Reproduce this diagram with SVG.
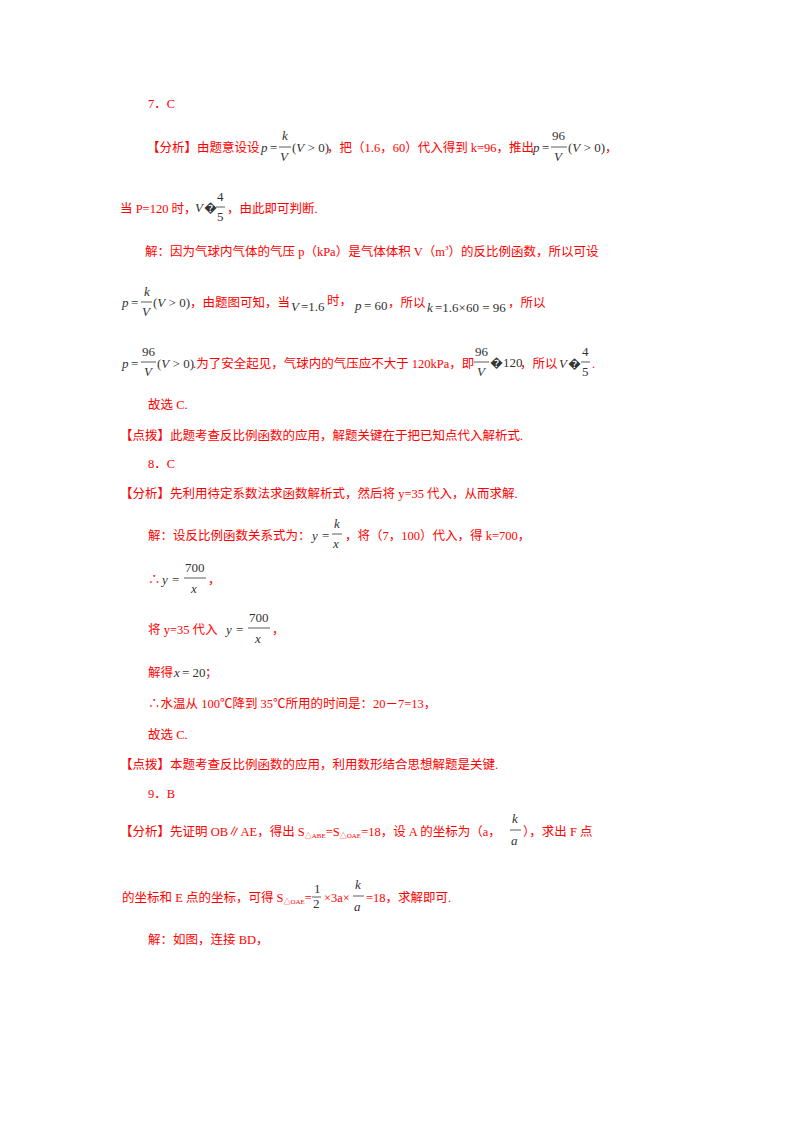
<svg xmlns="http://www.w3.org/2000/svg" width="800" height="1132" viewBox="0 0 800 1132">
<style>
text{font-family:"Liberation Serif","Noto Sans CJK SC",serif;font-size:12.5px;fill:#f00}
.m{font-style:italic;fill:#333;font-size:13px}
.n{fill:#333;font-size:13px}
.s{font-size:7px}
line{stroke:#333;stroke-width:0.8}
</style>
<rect width="800" height="1132" fill="#fff"/>
<g id="q7">
<text x="148" y="108">7．C</text>
<text x="147" y="152">【分析】由题意设设</text>
<text x="261" y="152" class="m">p</text><text x="270" y="152" class="n">=</text>
<text x="282" y="140" class="m">k</text><line x1="279" y1="147" x2="291" y2="147"/><text x="280" y="161" class="m">V</text>
<text x="292" y="152" class="n">(<tspan font-style="italic">V</tspan> &gt; 0)</text>
<text x="327" y="152">，把（1.6，60）代入得到 k=96，推出</text>
<text x="533" y="152" class="m">p</text><text x="542" y="152" class="n">=</text>
<text x="552" y="140" class="n">96</text><line x1="551" y1="147" x2="567" y2="147"/><text x="554" y="161" class="m">V</text>
<text x="568" y="152" class="n">(<tspan font-style="italic">V</tspan> &gt; 0)</text>
<text x="605" y="152">，</text>
<text x="120" y="213">当 P=120 时，</text>
<text x="195" y="212" class="m">V</text><text x="204" y="212" class="n">�</text>
<text x="217" y="201" class="n">4</text><line x1="216" y1="207" x2="225" y2="207"/><text x="217" y="221" class="n">5</text>
<text x="227" y="213">，由此即可判断.</text>
<text x="145" y="256">解：因为气球内气体的气压 p（kPa）是气体体积 V（m<tspan class="s" dy="-6">3</tspan><tspan dy="6">）的反比例函数，所以可设</tspan></text>
<text x="122" y="307" class="m">p</text><text x="131" y="307" class="n">=</text>
<text x="144" y="296" class="m">k</text><line x1="141" y1="302" x2="152" y2="302"/><text x="142" y="316" class="m">V</text>
<text x="153" y="307" class="n">(<tspan font-style="italic">V</tspan> &gt; 0)</text>
<text x="190" y="307">，由题图可知，当</text>
<text x="291" y="311" class="m">V</text><text x="301" y="311" class="n">=1.6</text><text x="327" y="305">时，</text>
<text x="355" y="310" class="m">p</text><text x="364" y="310" class="n">= 60</text><text x="388" y="307">，所以</text>
<text x="427" y="312" class="m">k</text><text x="435" y="312" class="n">=1.6×60 = 96</text><text x="508" y="307">，所以</text>
<text x="122" y="368" class="m">p</text><text x="131" y="368" class="n">=</text>
<text x="142" y="356" class="n">96</text><line x1="141" y1="362" x2="156" y2="362"/><text x="144" y="376" class="m">V</text>
<text x="157" y="368" class="n">(<tspan font-style="italic">V</tspan> &gt; 0)</text>
<text x="193" y="368">.为了安全起见，气球内的气压应不大于 120kPa，即</text>
<text x="475" y="356" class="n">96</text><line x1="474" y1="362" x2="489" y2="362"/><text x="477" y="376" class="m">V</text>
<text x="490" y="367" class="n">�120</text><text x="520" y="368">，所以</text>
<text x="559" y="368" class="m">V</text><text x="568" y="368" class="n">�</text>
<text x="582" y="356" class="n">4</text><line x1="581" y1="362" x2="590" y2="362"/><text x="582" y="376" class="n">5</text><text x="592" y="368">.</text>
<text x="148" y="409">故选 C.</text>
<text x="120" y="440">【点拨】此题考查反比例函数的应用，解题关键在于把已知点代入解析式.</text>
</g>
<g id="q8">
<text x="148" y="468">8．C</text>
<text x="120" y="498">【分析】先利用待定系数法求函数解析式，然后将 y=35 代入，从而求解.</text>
<text x="148" y="540">解：设反比例函数关系式为：</text>
<text x="312" y="540" class="m">y</text><text x="322" y="540" class="n">=</text>
<text x="334" y="528" class="m">k</text><line x1="332" y1="534" x2="342" y2="534"/><text x="333" y="548" class="m">x</text>
<text x="345" y="540">，将（7，100）代入，得 k=700，</text>
<text x="148" y="584">∴</text><text x="162" y="584" class="m">y</text><text x="172" y="584" class="n">=</text>
<text x="185" y="572" class="n">700</text><line x1="184" y1="578" x2="206" y2="578"/><text x="191" y="593" class="m">x</text>
<text x="208" y="584">，</text>
<text x="148" y="634">将 y=35 代入</text><text x="226" y="634" class="m">y</text><text x="236" y="634" class="n">=</text>
<text x="249" y="622" class="n">700</text><line x1="248" y1="628" x2="270" y2="628"/><text x="255" y="643" class="m">x</text>
<text x="272" y="634">，</text>
<text x="148" y="677">解得</text><text x="174" y="677" class="m">x</text><text x="182" y="677" class="n">= 20</text><text x="205" y="677">；</text>
<text x="148" y="708">∴水温从 100℃降到 35℃所用的时间是：20－7=13，</text>
<text x="148" y="739">故选 C.</text>
<text x="120" y="769">【点拨】本题考查反比例函数的应用，利用数形结合思想解题是关键.</text>
</g>
<g id="q9">
<text x="148" y="798">9．B</text>
<text x="120" y="836">【分析】先证明 OB∥AE，得出 S<tspan class="s" dy="2">△ABE</tspan><tspan dy="-2">=S</tspan><tspan class="s" dy="2">△OAE</tspan><tspan dy="-2">=18，设 A 的坐标为（a，</tspan></text>
<text x="512" y="823" class="m">k</text><line x1="510" y1="830" x2="521" y2="830"/><text x="511" y="845" class="m">a</text>
<text x="523" y="836">），求出 F 点</text>
<text x="122" y="902">的坐标和 E 点的坐标，可得 S<tspan class="s" dy="2">△OAE</tspan><tspan dy="-2">=</tspan></text>
<text x="314" y="893" class="n" font-size="11">1</text><line x1="312" y1="897" x2="321" y2="897"/><text x="313" y="908" class="n" font-size="11">2</text>
<text x="324" y="902">×3a×</text>
<text x="355" y="889" class="m">k</text><line x1="353" y1="896" x2="364" y2="896"/><text x="354" y="911" class="m">a</text>
<text x="366" y="902">=18，求解即可.</text>
<text x="148" y="944">解：如图，连接 BD，</text>
</g>
</svg>
